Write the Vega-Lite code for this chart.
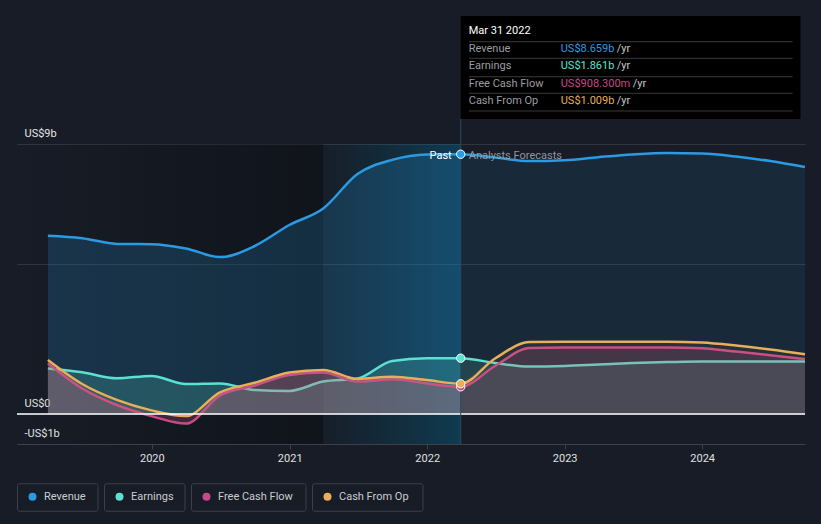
{
  "$schema": "https://vega.github.io/schema/vega-lite/v6.json",
  "width": 788,
  "height": 300,
  "autosize": {"type": "none"},
  "padding": {"left": 17, "top": 144, "right": 16, "bottom": 80},
  "background": "#171c26",
  "config": {
    "view": {"stroke": null},
    "font": "Roboto",
    "text": {"font": "Roboto"},
    "axisX": {"title": null, "format": "%Y", "tickCount": "year", "grid": false, "domainColor": "#3b404b", "tickColor": "#3b404b", "tickSize": 5, "labelColor": "#e0e0e0", "labelFontSize": 11, "labelFont": "Roboto", "labelPadding": 3},
    "axisY": {"title": null, "labelExpr": "datum.value == 9 ? 'US$9b' : datum.value == 0 ? 'US$0' : datum.value == -1 ? '-US$1b' : ''", "labelAlign": "left", "labelBaseline": "alphabetic", "labelOffset": -8, "labelPadding": -7, "ticks": false, "tickSize": 0, "domain": false, "grid": true, "gridColor": "#30353f", "labelColor": "#e6e6e6", "labelFontSize": 11, "labelFont": "Roboto"},
    "legend": {
      "title": null, "orient": "none", "legendX": 0, "legendY": 339, "direction": "horizontal",
      "symbolType": "circle", "symbolSize": 64, "symbolStrokeWidth": 0, "symbolOpacity": 1,
      "labelColor": "#c9ccd1", "labelFont": "Roboto", "labelFontSize": 11,
      "symbolOffset": 10, "labelOffset": 6, "clipHeight": 27, "columnPadding": 5, "padding": 0, "offset": 0
    }
  },
  "datasets": {
    "fin": [
      {"date": "2019-03-31", "series": "Revenue", "value": 5.94},
      {"date": "2019-06-30", "series": "Revenue", "value": 5.86},
      {"date": "2019-09-30", "series": "Revenue", "value": 5.67},
      {"date": "2019-12-31", "series": "Revenue", "value": 5.66},
      {"date": "2020-03-31", "series": "Revenue", "value": 5.52},
      {"date": "2020-06-30", "series": "Revenue", "value": 5.23},
      {"date": "2020-09-30", "series": "Revenue", "value": 5.6},
      {"date": "2020-12-31", "series": "Revenue", "value": 6.3},
      {"date": "2021-03-31", "series": "Revenue", "value": 6.85},
      {"date": "2021-06-30", "series": "Revenue", "value": 8.0},
      {"date": "2021-09-30", "series": "Revenue", "value": 8.47},
      {"date": "2021-12-31", "series": "Revenue", "value": 8.65},
      {"date": "2022-03-31", "series": "Revenue", "value": 8.659},
      {"date": "2022-06-30", "series": "Revenue", "value": 8.55},
      {"date": "2022-09-30", "series": "Revenue", "value": 8.43},
      {"date": "2022-12-31", "series": "Revenue", "value": 8.46},
      {"date": "2023-03-31", "series": "Revenue", "value": 8.56},
      {"date": "2023-06-30", "series": "Revenue", "value": 8.65},
      {"date": "2023-09-30", "series": "Revenue", "value": 8.7},
      {"date": "2023-12-31", "series": "Revenue", "value": 8.68},
      {"date": "2024-03-31", "series": "Revenue", "value": 8.58},
      {"date": "2024-06-30", "series": "Revenue", "value": 8.43},
      {"date": "2024-09-30", "series": "Revenue", "value": 8.23},
      {"date": "2019-03-31", "series": "Earnings", "value": 1.52},
      {"date": "2019-06-30", "series": "Earnings", "value": 1.39},
      {"date": "2019-09-30", "series": "Earnings", "value": 1.19},
      {"date": "2019-12-31", "series": "Earnings", "value": 1.27},
      {"date": "2020-03-31", "series": "Earnings", "value": 1.0},
      {"date": "2020-06-30", "series": "Earnings", "value": 1.02},
      {"date": "2020-09-30", "series": "Earnings", "value": 0.8},
      {"date": "2020-12-31", "series": "Earnings", "value": 0.77},
      {"date": "2021-03-31", "series": "Earnings", "value": 1.08},
      {"date": "2021-06-30", "series": "Earnings", "value": 1.18},
      {"date": "2021-09-30", "series": "Earnings", "value": 1.77},
      {"date": "2021-12-31", "series": "Earnings", "value": 1.86},
      {"date": "2022-03-31", "series": "Earnings", "value": 1.861},
      {"date": "2022-06-30", "series": "Earnings", "value": 1.7},
      {"date": "2022-09-30", "series": "Earnings", "value": 1.58},
      {"date": "2022-12-31", "series": "Earnings", "value": 1.6},
      {"date": "2023-03-31", "series": "Earnings", "value": 1.65},
      {"date": "2023-06-30", "series": "Earnings", "value": 1.7},
      {"date": "2023-09-30", "series": "Earnings", "value": 1.73},
      {"date": "2023-12-31", "series": "Earnings", "value": 1.75},
      {"date": "2024-03-31", "series": "Earnings", "value": 1.75},
      {"date": "2024-06-30", "series": "Earnings", "value": 1.75},
      {"date": "2024-09-30", "series": "Earnings", "value": 1.75},
      {"date": "2019-03-31", "series": "Free Cash Flow", "value": 1.69},
      {"date": "2019-06-30", "series": "Free Cash Flow", "value": 0.85},
      {"date": "2019-09-30", "series": "Free Cash Flow", "value": 0.3},
      {"date": "2019-12-31", "series": "Free Cash Flow", "value": -0.07},
      {"date": "2020-03-31", "series": "Free Cash Flow", "value": -0.32},
      {"date": "2020-06-30", "series": "Free Cash Flow", "value": 0.62},
      {"date": "2020-09-30", "series": "Free Cash Flow", "value": 0.95},
      {"date": "2020-12-31", "series": "Free Cash Flow", "value": 1.3},
      {"date": "2021-03-31", "series": "Free Cash Flow", "value": 1.38},
      {"date": "2021-06-30", "series": "Free Cash Flow", "value": 1.08},
      {"date": "2021-09-30", "series": "Free Cash Flow", "value": 1.16},
      {"date": "2021-12-31", "series": "Free Cash Flow", "value": 1.02},
      {"date": "2022-03-31", "series": "Free Cash Flow", "value": 0.908},
      {"date": "2022-06-30", "series": "Free Cash Flow", "value": 1.6},
      {"date": "2022-09-30", "series": "Free Cash Flow", "value": 2.2},
      {"date": "2022-12-31", "series": "Free Cash Flow", "value": 2.22},
      {"date": "2023-03-31", "series": "Free Cash Flow", "value": 2.22},
      {"date": "2023-06-30", "series": "Free Cash Flow", "value": 2.22},
      {"date": "2023-09-30", "series": "Free Cash Flow", "value": 2.22},
      {"date": "2023-12-31", "series": "Free Cash Flow", "value": 2.19},
      {"date": "2024-03-31", "series": "Free Cash Flow", "value": 2.08},
      {"date": "2024-06-30", "series": "Free Cash Flow", "value": 1.96},
      {"date": "2024-09-30", "series": "Free Cash Flow", "value": 1.83},
      {"date": "2019-03-31", "series": "Cash From Op", "value": 1.8},
      {"date": "2019-06-30", "series": "Cash From Op", "value": 1.0},
      {"date": "2019-09-30", "series": "Cash From Op", "value": 0.47},
      {"date": "2019-12-31", "series": "Cash From Op", "value": 0.12},
      {"date": "2020-03-31", "series": "Cash From Op", "value": -0.07},
      {"date": "2020-06-30", "series": "Cash From Op", "value": 0.72},
      {"date": "2020-09-30", "series": "Cash From Op", "value": 1.04},
      {"date": "2020-12-31", "series": "Cash From Op", "value": 1.38},
      {"date": "2021-03-31", "series": "Cash From Op", "value": 1.47},
      {"date": "2021-06-30", "series": "Cash From Op", "value": 1.17},
      {"date": "2021-09-30", "series": "Cash From Op", "value": 1.24},
      {"date": "2021-12-31", "series": "Cash From Op", "value": 1.13},
      {"date": "2022-03-31", "series": "Cash From Op", "value": 1.009},
      {"date": "2022-06-30", "series": "Cash From Op", "value": 1.85},
      {"date": "2022-09-30", "series": "Cash From Op", "value": 2.4},
      {"date": "2022-12-31", "series": "Cash From Op", "value": 2.41},
      {"date": "2023-03-31", "series": "Cash From Op", "value": 2.41},
      {"date": "2023-06-30", "series": "Cash From Op", "value": 2.41},
      {"date": "2023-09-30", "series": "Cash From Op", "value": 2.41},
      {"date": "2023-12-31", "series": "Cash From Op", "value": 2.38},
      {"date": "2024-03-31", "series": "Cash From Op", "value": 2.28},
      {"date": "2024-06-30", "series": "Cash From Op", "value": 2.15},
      {"date": "2024-09-30", "series": "Cash From Op", "value": 1.99}
    ],
    "tip": [
      {"series": "Revenue", "amount": "US$8.659b"},
      {"series": "Earnings", "amount": "US$1.861b"},
      {"series": "Free Cash Flow", "amount": "US$908.300m"},
      {"series": "Cash From Op", "amount": "US$1.009b"}
    ]
  },
  "data": {"name": "fin"},
  "layer": [
    {
      "data": {"values": [{}]},
      "mark": {"type": "rect", "fill": {"gradient": "linear", "x1": 0, "x2": 1, "y1": 0, "y2": 0, "stops": [{"offset": 0, "color": "rgba(0,0,0,0)"}, {"offset": 1, "color": "rgba(0,0,0,0.3)"}]}},
      "encoding": {
        "x": {"datum": {"year": 2019, "month": 1, "date": 8}, "type": "temporal", "title": null},
        "x2": {"datum": {"year": 2021, "month": 3, "date": 31}},
        "y": {"datum": 9, "type": "quantitative", "title": null},
        "y2": {"datum": -1}
      }
    },
    {
      "data": {"values": [{}]},
      "mark": {"type": "rect", "fill": {"gradient": "linear", "x1": 0, "x2": 1, "y1": 0, "y2": 0, "stops": [{"offset": 0, "color": "rgba(0,110,150,0.03)"}, {"offset": 1, "color": "rgba(0,125,170,0.32)"}]}},
      "encoding": {
        "x": {"datum": {"year": 2021, "month": 3, "date": 31}, "type": "temporal", "title": null},
        "x2": {"datum": {"year": 2022, "month": 3, "date": 31}},
        "y": {"datum": 9, "type": "quantitative", "title": null},
        "y2": {"datum": -1}
      }
    },
    {
      "transform": [{"filter": "datum.series == 'Revenue'"}],
      "encoding": {
        "x": {"field": "date", "type": "temporal", "title": null, "scale": {"domain": [{"year": 2019, "month": 1, "date": 8}, {"year": 2024, "month": 9, "date": 30}]}},
        "y": {"field": "value", "type": "quantitative", "stack": null, "title": null, "scale": {"domain": [-1, 9], "nice": false, "zero": false}, "axis": {"values": [-1, 0, 5, 9]}},
        "color": {"field": "series", "type": "nominal", "title": null, "scale": {"domain": ["Revenue", "Earnings", "Free Cash Flow", "Cash From Op"], "range": ["#2a9be3", "#5ce0cf", "#c64a87", "#e8ae5a"]},
          "legend": {"encode": {"entries": {"update": {"stroke": {"value": "#3b404b"}, "strokeWidth": {"value": 1}, "cornerRadius": {"value": 2}, "width": {"signal": "(datum.index === 0 || datum.value === 'Revenue') ? 80 : (datum.index === 1 || datum.value === 'Earnings') ? 80 : (datum.index === 2 || datum.value === 'Free Cash Flow') ? 114 : 110"}, "height": {"value": 27}}}}}}
      },
      "layer": [
        {"transform": [{"filter": {"field": "date", "lte": {"year": 2022, "month": 4, "date": 1}}}], "mark": {"type": "area", "interpolate": "monotone", "fillOpacity": 0.2}, "encoding": {"y2": {"datum": 0}}},
        {"transform": [{"filter": {"field": "date", "gte": {"year": 2022, "month": 3, "date": 30}}}], "mark": {"type": "area", "interpolate": "monotone", "fillOpacity": 0.1}, "encoding": {"y2": {"datum": 0}}},
        {"mark": {"type": "line", "interpolate": "monotone", "strokeWidth": 2.5}}
      ]
    },
    {
      "transform": [{"filter": "datum.series == 'Earnings'"}],
      "encoding": {
        "x": {"field": "date", "type": "temporal", "title": null},
        "y": {"field": "value", "type": "quantitative", "stack": null, "title": null},
        "color": {"field": "series", "type": "nominal", "title": null, "scale": {"domain": ["Revenue", "Earnings", "Free Cash Flow", "Cash From Op"], "range": ["#2a9be3", "#5ce0cf", "#c64a87", "#e8ae5a"]},
          "legend": {"encode": {"entries": {"update": {"stroke": {"value": "#3b404b"}, "strokeWidth": {"value": 1}, "cornerRadius": {"value": 2}, "width": {"signal": "(datum.index === 0 || datum.value === 'Revenue') ? 80 : (datum.index === 1 || datum.value === 'Earnings') ? 80 : (datum.index === 2 || datum.value === 'Free Cash Flow') ? 114 : 110"}, "height": {"value": 27}}}}}}
      },
      "layer": [
        {"transform": [{"filter": {"field": "date", "lte": {"year": 2022, "month": 4, "date": 1}}}], "mark": {"type": "area", "interpolate": "monotone", "fillOpacity": 0.2}, "encoding": {"y2": {"datum": 0}}},
        {"transform": [{"filter": {"field": "date", "gte": {"year": 2022, "month": 3, "date": 30}}}], "mark": {"type": "area", "interpolate": "monotone", "fillOpacity": 0.15}, "encoding": {"y2": {"datum": 0}}},
        {"mark": {"type": "line", "interpolate": "monotone", "strokeWidth": 2.5}}
      ]
    },
    {
      "transform": [{"filter": "datum.series == 'Free Cash Flow'"}],
      "encoding": {
        "x": {"field": "date", "type": "temporal", "title": null},
        "y": {"field": "value", "type": "quantitative", "stack": null, "title": null},
        "color": {"field": "series", "type": "nominal", "title": null, "scale": {"domain": ["Revenue", "Earnings", "Free Cash Flow", "Cash From Op"], "range": ["#2a9be3", "#5ce0cf", "#c64a87", "#e8ae5a"]},
          "legend": {"encode": {"entries": {"update": {"stroke": {"value": "#3b404b"}, "strokeWidth": {"value": 1}, "cornerRadius": {"value": 2}, "width": {"signal": "(datum.index === 0 || datum.value === 'Revenue') ? 80 : (datum.index === 1 || datum.value === 'Earnings') ? 80 : (datum.index === 2 || datum.value === 'Free Cash Flow') ? 114 : 110"}, "height": {"value": 27}}}}}}
      },
      "layer": [
        {"transform": [{"filter": {"field": "date", "lte": {"year": 2022, "month": 4, "date": 1}}}], "mark": {"type": "area", "interpolate": "monotone", "fillOpacity": 0.25}, "encoding": {"y2": {"datum": 0}}},
        {"transform": [{"filter": {"field": "date", "gte": {"year": 2022, "month": 3, "date": 30}}}], "mark": {"type": "area", "interpolate": "monotone", "fillOpacity": 0.18}, "encoding": {"y2": {"datum": 0}}},
        {"mark": {"type": "line", "interpolate": "monotone", "strokeWidth": 2.5}}
      ]
    },
    {
      "transform": [{"filter": "datum.series == 'Cash From Op'"}],
      "encoding": {
        "x": {"field": "date", "type": "temporal", "title": null},
        "y": {"field": "value", "type": "quantitative", "stack": null, "title": null},
        "color": {"field": "series", "type": "nominal", "title": null, "scale": {"domain": ["Revenue", "Earnings", "Free Cash Flow", "Cash From Op"], "range": ["#2a9be3", "#5ce0cf", "#c64a87", "#e8ae5a"]},
          "legend": {"encode": {"entries": {"update": {"stroke": {"value": "#3b404b"}, "strokeWidth": {"value": 1}, "cornerRadius": {"value": 2}, "width": {"signal": "(datum.index === 0 || datum.value === 'Revenue') ? 80 : (datum.index === 1 || datum.value === 'Earnings') ? 80 : (datum.index === 2 || datum.value === 'Free Cash Flow') ? 114 : 110"}, "height": {"value": 27}}}}}}
      },
      "layer": [
        {"transform": [{"filter": {"field": "date", "lte": {"year": 2022, "month": 4, "date": 1}}}], "mark": {"type": "area", "interpolate": "monotone", "fillOpacity": 0.1}, "encoding": {"y2": {"datum": 0}}},
        {"transform": [{"filter": {"field": "date", "gte": {"year": 2022, "month": 3, "date": 30}}}], "mark": {"type": "area", "interpolate": "monotone", "fillOpacity": 0.07}, "encoding": {"y2": {"datum": 0}}},
        {"mark": {"type": "line", "interpolate": "monotone", "strokeWidth": 2.5}}
      ]
    },
    {
      "data": {"values": [{}]},
      "mark": {"type": "rule", "color": "#ffffff", "strokeWidth": 1.5},
      "encoding": {
        "y": {"datum": 0, "type": "quantitative", "title": null}
      }
    },
    {
      "data": {"values": [{}]},
      "mark": {"type": "rule", "color": "#2b4a5e", "strokeWidth": 1},
      "encoding": {
        "x": {"datum": {"year": 2022, "month": 3, "date": 31}, "type": "temporal", "title": null},
        "y": {"datum": 9.833, "type": "quantitative", "title": null},
        "y2": {"datum": -1}
      }
    },
    {
      "transform": [{"filter": {"field": "date", "range": [{"year": 2022, "month": 3, "date": 30}, {"year": 2022, "month": 4, "date": 1}]}}],
      "mark": {"type": "point", "filled": true, "size": 70, "opacity": 1, "stroke": "#ffffff", "strokeWidth": 1},
      "encoding": {
        "x": {"field": "date", "type": "temporal", "title": null},
        "y": {"field": "value", "type": "quantitative", "title": null},
        "color": {"field": "series", "type": "nominal", "title": null, "scale": {"domain": ["Revenue", "Earnings", "Free Cash Flow", "Cash From Op"], "range": ["#2a9be3", "#5ce0cf", "#c64a87", "#e8ae5a"]},
          "legend": {"encode": {"entries": {"update": {"stroke": {"value": "#3b404b"}, "strokeWidth": {"value": 1}, "cornerRadius": {"value": 2}, "width": {"signal": "(datum.index === 0 || datum.value === 'Revenue') ? 80 : (datum.index === 1 || datum.value === 'Earnings') ? 80 : (datum.index === 2 || datum.value === 'Free Cash Flow') ? 114 : 110"}, "height": {"value": 27}}}}}}
      }
    },
    {
      "data": {"values": [{}]},
      "mark": {"type": "text", "align": "right", "baseline": "middle", "dx": -9, "dy": 12, "fontSize": 11, "color": "#ffffff"},
      "encoding": {
        "x": {"datum": {"year": 2022, "month": 3, "date": 31}, "type": "temporal", "title": null},
        "y": {"datum": 9, "type": "quantitative", "title": null},
        "text": {"value": "Past"}
      }
    },
    {
      "data": {"values": [{}]},
      "mark": {"type": "text", "align": "left", "baseline": "middle", "dx": 8, "dy": 12, "fontSize": 11, "color": "#9ea3a9", "opacity": 0.9},
      "encoding": {
        "x": {"datum": {"year": 2022, "month": 3, "date": 31}, "type": "temporal", "title": null},
        "y": {"datum": 9, "type": "quantitative", "title": null},
        "text": {"value": "Analysts Forecasts"}
      }
    },
    {
      "data": {"values": [{}]},
      "mark": {"type": "rect", "fill": "#000000"},
      "encoding": {
        "x": {"datum": {"year": 2022, "month": 3, "date": 31}, "type": "temporal", "title": null},
        "x2": {"datum": {"year": 2024, "month": 9, "date": 18}},
        "y": {"datum": 13.267, "type": "quantitative", "title": null},
        "y2": {"datum": 9.833}
      }
    },
    {
      "data": {"values": [{}]},
      "mark": {"type": "text", "align": "left", "baseline": "middle", "dx": 8, "fontSize": 11, "color": "#ffffff"},
      "encoding": {
        "x": {"datum": {"year": 2022, "month": 3, "date": 31}, "type": "temporal", "title": null},
        "y": {"datum": 12.757, "type": "quantitative", "title": null},
        "text": {"value": "Mar 31 2022"}
      }
    },
    {
      "data": {"values": [{}]},
      "mark": {"type": "rule", "color": "#3a3a3a", "strokeWidth": 1},
      "encoding": {
        "x": {"datum": {"year": 2022, "month": 4, "date": 22}, "type": "temporal", "title": null},
        "x2": {"datum": {"year": 2024, "month": 8, "date": 28}},
        "y": {"datum": 12.41, "type": "quantitative", "title": null}
      }
    },
    {
      "data": {"values": [{}]},
      "mark": {"type": "rule", "color": "#3a3a3a", "strokeWidth": 1},
      "encoding": {
        "x": {"datum": {"year": 2022, "month": 4, "date": 22}, "type": "temporal", "title": null},
        "x2": {"datum": {"year": 2024, "month": 8, "date": 28}},
        "y": {"datum": 11.857, "type": "quantitative", "title": null}
      }
    },
    {
      "data": {"values": [{}]},
      "mark": {"type": "rule", "color": "#3a3a3a", "strokeWidth": 1},
      "encoding": {
        "x": {"datum": {"year": 2022, "month": 4, "date": 22}, "type": "temporal", "title": null},
        "x2": {"datum": {"year": 2024, "month": 8, "date": 28}},
        "y": {"datum": 11.243, "type": "quantitative", "title": null}
      }
    },
    {
      "data": {"values": [{}]},
      "mark": {"type": "rule", "color": "#3a3a3a", "strokeWidth": 1},
      "encoding": {
        "x": {"datum": {"year": 2022, "month": 4, "date": 22}, "type": "temporal", "title": null},
        "x2": {"datum": {"year": 2024, "month": 8, "date": 28}},
        "y": {"datum": 10.69, "type": "quantitative", "title": null}
      }
    },
    {
      "data": {"values": [{}]},
      "mark": {"type": "rule", "color": "#3a3a3a", "strokeWidth": 1},
      "encoding": {
        "x": {"datum": {"year": 2022, "month": 4, "date": 22}, "type": "temporal", "title": null},
        "x2": {"datum": {"year": 2024, "month": 8, "date": 28}},
        "y": {"datum": 10.1, "type": "quantitative", "title": null}
      }
    },
    {
      "data": {"name": "tip"},
      "transform": [{"filter": "datum.series == 'Revenue'"}],
      "encoding": {
        "x": {"datum": {"year": 2022, "month": 3, "date": 31}, "type": "temporal", "title": null},
        "y": {"datum": 12.157, "type": "quantitative", "title": null}
      },
      "layer": [
        {"mark": {"type": "text", "align": "left", "baseline": "middle", "dx": 8, "fontSize": 11, "color": "#9a9da2"}, "encoding": {"text": {"field": "series"}}},
        {"mark": {"type": "text", "align": "left", "baseline": "middle", "dx": 100, "fontSize": 11}, "encoding": {"text": {"field": "amount"}, "color": {"field": "series", "type": "nominal", "title": null, "scale": {"domain": ["Revenue", "Earnings", "Free Cash Flow", "Cash From Op"], "range": ["#2a9be3", "#5ce0cf", "#c64a87", "#e8ae5a"]},
          "legend": {"encode": {"entries": {"update": {"stroke": {"value": "#3b404b"}, "strokeWidth": {"value": 1}, "cornerRadius": {"value": 2}, "width": {"signal": "(datum.index === 0 || datum.value === 'Revenue') ? 80 : (datum.index === 1 || datum.value === 'Earnings') ? 80 : (datum.index === 2 || datum.value === 'Free Cash Flow') ? 114 : 110"}, "height": {"value": 27}}}}}}}},
        {"mark": {"type": "text", "align": "left", "baseline": "middle", "dx": 156, "fontSize": 11, "color": "#c8c8c8"}, "encoding": {"text": {"value": "/yr"}}}
      ]
    },
    {
      "data": {"name": "tip"},
      "transform": [{"filter": "datum.series == 'Earnings'"}],
      "encoding": {
        "x": {"datum": {"year": 2022, "month": 3, "date": 31}, "type": "temporal", "title": null},
        "y": {"datum": 11.6, "type": "quantitative", "title": null}
      },
      "layer": [
        {"mark": {"type": "text", "align": "left", "baseline": "middle", "dx": 8, "fontSize": 11, "color": "#9a9da2"}, "encoding": {"text": {"field": "series"}}},
        {"mark": {"type": "text", "align": "left", "baseline": "middle", "dx": 100, "fontSize": 11}, "encoding": {"text": {"field": "amount"}, "color": {"field": "series", "type": "nominal", "title": null, "scale": {"domain": ["Revenue", "Earnings", "Free Cash Flow", "Cash From Op"], "range": ["#2a9be3", "#5ce0cf", "#c64a87", "#e8ae5a"]},
          "legend": {"encode": {"entries": {"update": {"stroke": {"value": "#3b404b"}, "strokeWidth": {"value": 1}, "cornerRadius": {"value": 2}, "width": {"signal": "(datum.index === 0 || datum.value === 'Revenue') ? 80 : (datum.index === 1 || datum.value === 'Earnings') ? 80 : (datum.index === 2 || datum.value === 'Free Cash Flow') ? 114 : 110"}, "height": {"value": 27}}}}}}}},
        {"mark": {"type": "text", "align": "left", "baseline": "middle", "dx": 156, "fontSize": 11, "color": "#c8c8c8"}, "encoding": {"text": {"value": "/yr"}}}
      ]
    },
    {
      "data": {"name": "tip"},
      "transform": [{"filter": "datum.series == 'Free Cash Flow'"}],
      "encoding": {
        "x": {"datum": {"year": 2022, "month": 3, "date": 31}, "type": "temporal", "title": null},
        "y": {"datum": 11.01, "type": "quantitative", "title": null}
      },
      "layer": [
        {"mark": {"type": "text", "align": "left", "baseline": "middle", "dx": 8, "fontSize": 11, "color": "#9a9da2"}, "encoding": {"text": {"field": "series"}}},
        {"mark": {"type": "text", "align": "left", "baseline": "middle", "dx": 100, "fontSize": 11}, "encoding": {"text": {"field": "amount"}, "color": {"field": "series", "type": "nominal", "title": null, "scale": {"domain": ["Revenue", "Earnings", "Free Cash Flow", "Cash From Op"], "range": ["#2a9be3", "#5ce0cf", "#c64a87", "#e8ae5a"]},
          "legend": {"encode": {"entries": {"update": {"stroke": {"value": "#3b404b"}, "strokeWidth": {"value": 1}, "cornerRadius": {"value": 2}, "width": {"signal": "(datum.index === 0 || datum.value === 'Revenue') ? 80 : (datum.index === 1 || datum.value === 'Earnings') ? 80 : (datum.index === 2 || datum.value === 'Free Cash Flow') ? 114 : 110"}, "height": {"value": 27}}}}}}}},
        {"mark": {"type": "text", "align": "left", "baseline": "middle", "dx": 172, "fontSize": 11, "color": "#c8c8c8"}, "encoding": {"text": {"value": "/yr"}}}
      ]
    },
    {
      "data": {"name": "tip"},
      "transform": [{"filter": "datum.series == 'Cash From Op'"}],
      "encoding": {
        "x": {"datum": {"year": 2022, "month": 3, "date": 31}, "type": "temporal", "title": null},
        "y": {"datum": 10.433, "type": "quantitative", "title": null}
      },
      "layer": [
        {"mark": {"type": "text", "align": "left", "baseline": "middle", "dx": 8, "fontSize": 11, "color": "#9a9da2"}, "encoding": {"text": {"field": "series"}}},
        {"mark": {"type": "text", "align": "left", "baseline": "middle", "dx": 100, "fontSize": 11}, "encoding": {"text": {"field": "amount"}, "color": {"field": "series", "type": "nominal", "title": null, "scale": {"domain": ["Revenue", "Earnings", "Free Cash Flow", "Cash From Op"], "range": ["#2a9be3", "#5ce0cf", "#c64a87", "#e8ae5a"]},
          "legend": {"encode": {"entries": {"update": {"stroke": {"value": "#3b404b"}, "strokeWidth": {"value": 1}, "cornerRadius": {"value": 2}, "width": {"signal": "(datum.index === 0 || datum.value === 'Revenue') ? 80 : (datum.index === 1 || datum.value === 'Earnings') ? 80 : (datum.index === 2 || datum.value === 'Free Cash Flow') ? 114 : 110"}, "height": {"value": 27}}}}}}}},
        {"mark": {"type": "text", "align": "left", "baseline": "middle", "dx": 156, "fontSize": 11, "color": "#c8c8c8"}, "encoding": {"text": {"value": "/yr"}}}
      ]
    }
  ]
}
